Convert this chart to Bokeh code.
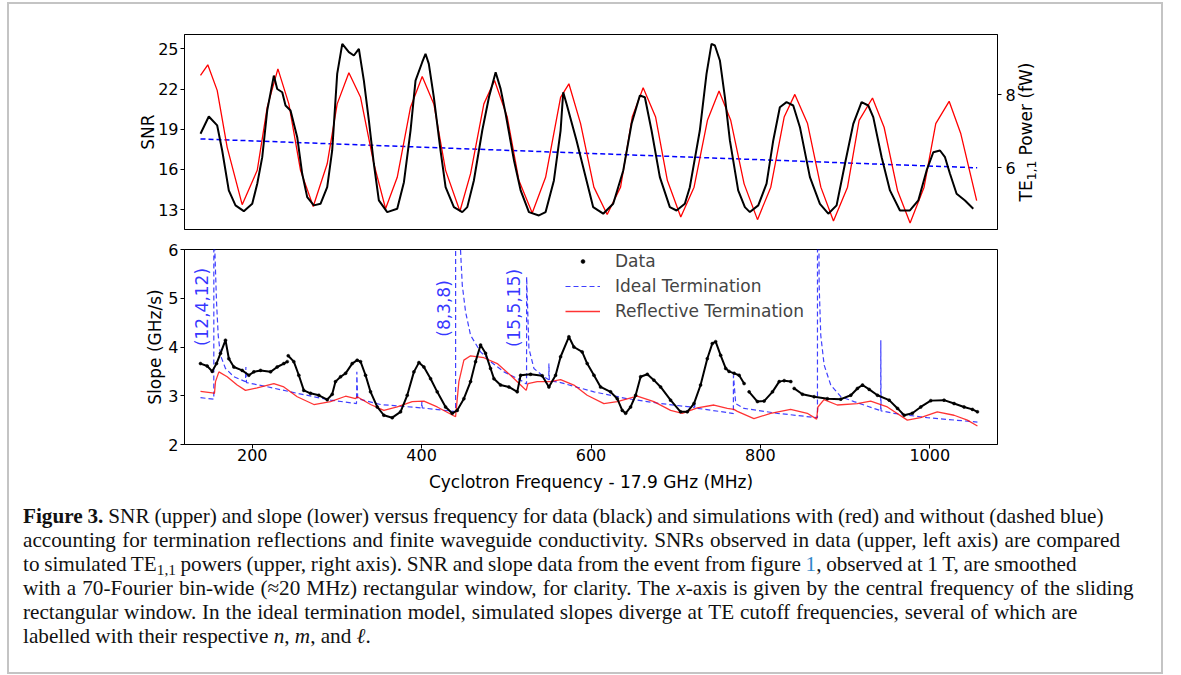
import math
from bokeh.plotting import figure
from bokeh.models import Range1d, LinearAxis, Legend, LegendItem, Div, FixedTicker
from bokeh.layouts import column, row
from bokeh.embed import file_html
from bokeh.resources import INLINE
from bokeh.core.properties import value

NaN = float("nan")

# ---------------- data ----------------
# upper panel: measured SNR (left axis)
snr_freq = [138.9, 148.7, 158.6, 164.5, 172.3, 180.2, 190.0, 200.0, 205.9, 211.8,
            217.7, 225.5, 229.5, 235.4, 239.3, 245.2, 253.1, 259.0, 264.9, 272.7,
            280.6, 288.5, 294.4, 300.3, 306.3, 314.1, 320.0, 325.9, 331.8, 337.7,
            343.6, 349.5, 359.4, 371.2, 379.1, 386.9, 392.8, 400.7, 404.6, 408.5,
            414.4, 422.3, 428.3, 438.1, 448.0, 453.9, 461.7, 471.6, 479.5, 487.4,
            493.3, 499.2, 509.1, 516.9, 526.7, 538.5, 546.4, 556.2, 564.1, 567.2,
            571.1, 582.9, 594.7, 602.6, 614.4, 626.2, 638.1, 647.9, 657.7, 663.6,
            671.5, 681.3, 693.1, 701.0, 710.8, 716.7, 728.5, 736.4, 742.3, 746.3,
            752.2, 758.1, 764.0, 773.8, 781.7, 787.6, 797.5, 807.3, 815.2, 823.0,
            830.9, 838.8, 846.7, 858.5, 870.3, 880.2, 890.0, 899.9, 909.7, 919.5,
            927.4, 933.3, 943.2, 953.0, 964.8, 976.6, 986.5, 996.3, 1004.2, 1012.1,
            1018.0, 1023.9, 1031.7, 1041.6, 1051.4]
snr_vals = [18.66, 19.95, 19.28, 17.41, 14.43, 13.31, 12.88, 13.43, 14.93, 16.91,
            20.40, 23.00, 22.00, 21.76, 20.77, 20.40, 18.40, 15.67, 13.93, 13.31,
            13.43, 14.67, 17.41, 23.13, 25.37, 24.75, 24.50, 25.00, 22.63, 19.65,
            16.42, 13.68, 12.81, 13.06, 15.04, 18.90, 22.63, 24.00, 24.63, 23.88,
            21.39, 17.41, 14.67, 13.18, 12.81, 13.18, 15.17, 18.90, 21.39, 23.25,
            22.01, 20.15, 16.66, 14.43, 12.81, 12.56, 12.81, 15.17, 18.90, 21.76,
            20.90, 18.16, 15.17, 13.18, 12.69, 13.43, 15.92, 19.40, 21.51, 21.39,
            18.90, 15.42, 13.18, 12.93, 13.43, 14.67, 18.90, 23.13, 25.37, 25.25,
            24.13, 21.39, 18.16, 14.43, 13.18, 12.81, 13.31, 14.93, 18.16, 20.64,
            21.02, 20.77, 19.15, 15.42, 13.43, 12.69, 13.31, 16.42, 19.40, 21.02,
            20.77, 19.90, 16.91, 14.43, 12.93, 12.93, 13.68, 15.92, 17.28, 17.41,
            16.91, 15.67, 14.18, 13.68, 13.06]

# upper panel: simulated TE11 power (right axis), reflective termination
pow_refl_freq = [138.9, 147.5, 158.6, 170.4, 188.1, 205.9, 217.7, 230.3, 243.2, 257.0,
                 272.0, 288.5, 300.3, 314.1, 327.9, 343.6, 357.4, 371.2, 386.9, 400.7,
                 414.4, 428.3, 445.2, 457.8, 473.5, 486.1, 501.1, 514.9, 530.6, 546.4,
                 564.1, 573.9, 587.7, 603.4, 619.1, 634.9, 648.7, 661.6, 676.3, 690.2,
                 706.0, 721.7, 737.5, 751.2, 765.0, 780.8, 796.6, 812.3, 828.1, 840.7,
                 855.7, 871.4, 886.3, 902.9, 916.6, 932.4, 946.1, 961.9, 976.8, 993.3,
                 1007.1, 1022.9, 1036.7, 1055.4]
pow_refl_vals = [8.53, 8.82, 8.12, 6.56, 4.99, 5.93, 7.66, 8.71, 7.75, 5.93,
                 4.94, 6.11, 7.75, 8.60, 7.93, 6.11, 4.88, 5.74, 7.66, 8.50,
                 7.75, 5.93, 4.81, 5.84, 7.75, 8.39, 7.39, 5.65, 4.76, 5.74,
                 7.93, 8.30, 7.21, 5.47, 4.72, 5.47, 7.39, 8.19, 7.39, 5.65,
                 4.65, 5.47, 7.30, 8.10, 7.30, 5.56, 4.58, 5.47, 7.39, 8.01,
                 7.21, 5.47, 4.54, 5.47, 7.30, 7.91, 7.11, 5.38, 4.49, 5.47,
                 7.21, 7.82, 6.93, 5.10]

# upper panel: simulated TE11 power, ideal termination
pow_ideal_freq = [138.9, 1056.0]
pow_ideal_vals = [6.79, 6.00]

# lower panel: measured slope
slope_freq = [138.9, 146.8, 152.7, 157.8, 162.5, 168.4, 172.4, 178.3, 188.1, 196.0,
              201.9, 209.8, 221.6, 229.4, 237.3, 241.3, NaN, 242.5, 249.1, 255.0,
              260.9, 268.8, 278.7, 288.5, 294.4, 298.3, 304.3, 310.2, 318.0, 323.9,
              327.9, 333.8, 339.7, 347.6, 355.4, 365.3, 375.1, 383.0, 390.9, 396.8,
              402.7, 410.6, 418.4, 428.3, 436.1, 442.0, 449.9, 457.8, 463.7, 469.6,
              475.5, 481.4, 485.4, 493.2, 503.1, 512.9, 516.9, 528.7, 542.4, 550.3,
              558.2, 564.1, 573.9, 579.8, 589.6, 595.5, 603.5, 611.3, 623.1, 631.0,
              636.9, 640.9, 646.8, 652.7, 658.6, 666.5, 674.3, 682.2, 694.0, 705.8,
              713.7, 721.6, 729.4, 737.3, 743.2, 747.2, 753.1, 759.1, 763.0, 769.0,
              774.9, 780.8, NaN, 786.7, 796.5, 804.4, 814.3, 822.2, 828.1, 836.0,
              NaN, 839.9, 849.7, 863.5, 879.2, 895.0, 906.8, 914.6, 920.6, 928.5,
              938.3, 952.1, 962.0, 969.8, 979.4, 989.4, 1001.2, 1016.9, 1028.7, 1040.5,
              1050.4, 1056.3]
slope_vals = [3.66, 3.61, 3.50, 3.66, 3.87, 4.14, 3.76, 3.59, 3.52, 3.42,
              3.49, 3.52, 3.49, 3.59, 3.66, 3.70, NaN, 3.82, 3.70, 3.42,
              3.11, 3.05, 3.01, 2.92, 3.03, 3.29, 3.39, 3.46, 3.66, 3.73,
              3.70, 3.42, 3.08, 2.77, 2.60, 2.55, 2.67, 3.01, 3.49, 3.68,
              3.59, 3.35, 3.08, 2.77, 2.64, 2.70, 2.94, 3.29, 3.70, 4.04,
              3.87, 3.56, 3.35, 3.22, 3.18, 3.08, 3.42, 3.44, 3.41, 3.18,
              3.42, 3.80, 4.21, 4.00, 3.90, 3.66, 3.42, 3.18, 3.08, 2.94,
              2.70, 2.64, 2.77, 3.01, 3.39, 3.44, 3.32, 3.18, 2.91, 2.67,
              2.67, 2.84, 3.22, 3.76, 4.07, 4.11, 3.83, 3.56, 3.50, 3.46,
              3.42, 3.25, NaN, 3.08, 2.88, 2.89, 3.08, 3.29, 3.31, 3.29,
              NaN, 3.15, 3.03, 2.98, 2.94, 2.93, 3.01, 3.15, 3.22, 3.13,
              3.01, 2.91, 2.74, 2.60, 2.64, 2.77, 2.90, 2.91, 2.84, 2.77,
              2.72, 2.67]

# lower panel: simulated slope, ideal termination
ideal_freq = [138.9, 154.6, 154.7, 155.8, 157.8, 159.8, 162.5, 168.4, 178.3, 192.0,
              192.5, 193.2, 213.7, 253.1, 292.4, 323.1, 323.5, 324.5, 351.5, 399.9,
              400.3, 400.8, 438.1, 440.1, 440.2, 445.9, 448.0, 451.9, 457.8, 469.6,
              481.4, 497.2, 516.9, 522.8, 523.9, 524.0, 526.7, 532.6, 544.4, 550.2,
              550.3, 550.8, 564.1, 603.5, 642.9, 682.2, 722.0, 722.2, 722.6, 766.9,
              768.1, 768.2, 770.9, 780.8, 820.2, 866.6, 867.4, 867.5, 869.4, 871.3,
              875.3, 883.1, 895.0, 910.6, 940.9, 942.1, 942.2, 942.5, 957.6, 997.0,
              1056.3]
ideal_vals = [2.96, 2.93, 12.0, 6.00, 4.93, 4.24, 3.83, 3.56, 3.39, 3.29,
              3.59, 3.27, 3.20, 3.05, 2.91, 2.84, 3.49, 2.94, 2.82, 2.75,
              2.88, 2.75, 2.68, 2.67, 12.0, 6.00, 5.27, 4.72, 4.24, 3.90,
              3.70, 3.49, 3.32, 3.25, 3.24, 5.44, 3.97, 3.56, 3.39, 3.33,
              3.66, 3.31, 3.27, 3.08, 2.94, 2.84, 2.76, 2.88, 2.75, 2.64,
              2.63, 3.42, 2.84, 2.74, 2.64, 2.55, 2.55, 12.0, 5.27, 4.24,
              3.63, 3.22, 2.98, 2.88, 2.70, 2.70, 4.14, 2.69, 2.64, 2.55,
              2.46]

# lower panel: simulated slope, reflective termination
refl_freq = [138.9, 152.7, 155.4, 156.6, 160.6, 170.4, 182.2, 192.0, 205.8, 225.5,
             237.3, 253.1, 272.8, 292.4, 310.2, 322.0, 323.9, 339.7, 355.4, 371.2,
             388.9, 402.7, 418.4, 440.1, 444.0, 449.9, 457.8, 473.5, 489.3, 505.0,
             516.9, 523.5, 525.5, 536.5, 552.3, 564.1, 579.8, 595.5, 615.2, 631.0,
             654.6, 674.3, 694.0, 707.8, 725.5, 745.2, 760.9, 768.8, 772.8, 792.4,
             812.1, 835.7, 855.4, 866.4, 868.0, 875.1, 890.8, 914.4, 930.2, 949.9,
             973.5, 989.2, 1008.9, 1028.7, 1044.4, 1056.3]
refl_vals = [3.09, 3.06, 3.05, 3.29, 3.49, 3.39, 3.22, 3.11, 3.16, 3.25,
             3.18, 2.98, 2.82, 2.88, 2.99, 2.94, 2.98, 2.82, 2.70, 2.77,
             2.88, 2.89, 2.77, 2.57, 3.29, 3.73, 3.82, 3.78, 3.66, 3.42,
             3.22, 3.11, 3.25, 3.29, 3.29, 3.33, 3.22, 3.01, 2.84, 2.88,
             2.99, 2.88, 2.70, 2.64, 2.75, 2.81, 2.74, 2.72, 2.68, 2.53,
             2.64, 2.72, 2.64, 2.52, 2.77, 2.92, 2.81, 2.84, 2.89, 2.77,
             2.50, 2.55, 2.67, 2.60, 2.50, 2.38]

# cutoff labels (n, m, l)
cut_text = ["(12,4,12)", "(8,3,8)", "(15,5,15)"]
cut_freq = [140.9, 426.3, 508.9]
cut_slope = [4.82, 4.79, 4.80]

snr_ticks = [13, 16, 19, 22, 25]
pow_ticks = [6, 8]
slope_ticks = [2, 3, 4, 5, 6]
freq_ticks = [200, 400, 600, 800, 1000]

# ---------------- styling ----------------
FONT = "DejaVu Sans"
W = 1152
ML, MR = 175, 164
FRAME_W = W - ML - MR
MR1 = 24                     # right border of upper panel (tick labels only)
W1 = ML + FRAME_W + MR1      # upper panel width; the rest holds the right label
x_rng = Range1d(120, 1080)
DASH = "5 3"


def style_axis(ax):
    ax.axis_line_color = "black"
    ax.major_tick_line_color = "black"
    ax.minor_tick_line_color = None
    ax.major_tick_in = 0
    ax.major_tick_out = 4
    ax.major_label_text_font = FONT
    ax.major_label_text_font_size = "16px"
    ax.major_label_text_color = "black"
    ax.axis_label_text_font = FONT
    ax.axis_label_text_font_size = "17px"
    ax.axis_label_text_font_style = "normal"
    ax.axis_label_text_color = "black"


def style_fig(p):
    p.grid.visible = False
    p.outline_line_color = "black"
    p.outline_line_alpha = 1
    p.outline_line_width = 1
    p.background_fill_color = "white"
    p.border_fill_color = "white"


# ---------- upper panel ----------
snr_rng = Range1d(11.51, 26.07)
p1 = figure(width=W1, height=235, x_range=x_rng, y_range=snr_rng,
            output_backend="svg", toolbar_location=None,
            min_border_left=ML, min_border_right=MR1, min_border_top=30, min_border_bottom=10)
p1.extra_y_ranges = {"power": Range1d(4.31, 9.65)}
style_fig(p1)
p1.xaxis.visible = False
p1.yaxis.ticker = FixedTicker(ticks=snr_ticks)
p1.yaxis.axis_label = "SNR"
style_axis(p1.yaxis[0])
p1.yaxis.major_label_standoff = 2
p1.yaxis.axis_label_standoff = -3

ax_r = LinearAxis(y_range_name="power", ticker=FixedTicker(ticks=pow_ticks))
style_axis(ax_r)
ax_r.major_label_standoff = 4
p1.add_layout(ax_r, "right")

p1.line(pow_ideal_freq, pow_ideal_vals, y_range_name="power", line_color="blue",
        line_width=1.5, line_dash=DASH)
p1.line(pow_refl_freq, pow_refl_vals, y_range_name="power", line_color="red", line_width=1.3)
p1.line(snr_freq, snr_vals, line_color="black", line_width=2)

# right-axis title, rotated to read bottom to top
right_label = Div(
    text=("<div style='position:relative;width:%dpx;height:235px;'>"
          "<span style=\"position:absolute;left:5px;top:127.5px;white-space:nowrap;"
          "font-family:'DejaVu Sans',sans-serif;font-size:17px;color:black;line-height:20px;"
          "transform:translate(-50%%,-50%%) rotate(-90deg);\">"
          "TE<sub style='font-size:0.72em;line-height:0;vertical-align:-0.3em'>1,1</sub>"
          " Power (fW)</span></div>") % (W - W1),
    width=W - W1, height=235, margin=0)

# ---------- lower panel ----------
p2 = figure(width=W, height=257, x_range=x_rng, y_range=Range1d(2, 6),
            output_backend="svg", toolbar_location=None,
            min_border_left=ML, min_border_right=MR, min_border_top=10, min_border_bottom=52)
style_fig(p2)
p2.xaxis.ticker = FixedTicker(ticks=freq_ticks)
p2.yaxis.ticker = FixedTicker(ticks=slope_ticks)
p2.xaxis.axis_label = "Cyclotron Frequency - 17.9 GHz (MHz)"
p2.yaxis.axis_label = "Slope (GHz/s)"
style_axis(p2.xaxis[0])
style_axis(p2.yaxis[0])
p2.xaxis.major_label_standoff = 0
p2.xaxis.axis_label_standoff = 8
p2.yaxis.major_label_standoff = 2
p2.yaxis.axis_label_standoff = 0

r_ideal = p2.line(ideal_freq, ideal_vals, line_color="blue", line_alpha=0.75,
                  line_width=1.2, line_dash=DASH)
r_refl = p2.line(refl_freq, refl_vals, line_color="red", line_alpha=0.8, line_width=1.3)
p2.line(slope_freq, slope_vals, line_color="black", line_width=2)
r_dots = p2.scatter(slope_freq, slope_vals, marker="circle", size=3, color="black",
                    line_width=0.5)

p2.text(x=cut_freq, y=cut_slope, text=cut_text, angle=math.pi / 2,
        text_align="center", text_baseline="middle", text_color="blue", text_alpha=0.8,
        text_font=value(FONT), text_font_size="17px")

legend = Legend(items=[LegendItem(label="Data", renderers=[r_dots]),
                       LegendItem(label="Ideal Termination", renderers=[r_ideal]),
                       LegendItem(label="Reflective Termination", renderers=[r_refl])],
                location=(381, 122), orientation="vertical")
legend.border_line_color = None
legend.background_fill_alpha = 0
legend.label_text_font = FONT
legend.label_text_font_size = "17px"
legend.glyph_width = 35
legend.glyph_height = 10
legend.label_height = 22
legend.spacing = 3
legend.padding = 4
legend.margin = 0
legend.label_standoff = 15
p2.add_layout(legend)

# ---------- caption ----------
def cap_line(html, ws):
    return "<span style='word-spacing:%spx'>%s</span>" % (ws, html)


caption_lines = [
    cap_line("<b>Figure 3.</b> SNR (upper) and slope (lower) versus frequency for data (black) and "
             "simulations with (red) and without (dashed blue)", -0.4),
    cap_line("accounting for termination reflections and finite waveguide conductivity. SNRs "
             "observed in data (upper, left axis) are compared", 0.9),
    cap_line("to simulated TE<sub style='font-size:0.72em;line-height:0;vertical-align:-0.25em'>"
             "1,1</sub> powers (upper, right axis). SNR and slope data from the event from figure "
             "<span style='color:#2f86c8'>1</span>, observed at 1 T, are smoothed", -0.6),
    cap_line("with a 70-Fourier bin-wide (&asymp;20 MHz) rectangular window, for clarity. The "
             "<i>x</i>-axis is given by the central frequency of the sliding", 0.8),
    cap_line("rectangular window. In the ideal termination model, simulated slopes diverge at TE "
             "cutoff frequencies, several of which are", 0.5),
    cap_line("labelled with their respective <i>n</i>, <i>m</i>, and <i>\u2113</i>.", 0),
]
caption = ("<div style=\"font-family:'Liberation Serif',serif;font-size:21.2px;line-height:24px;"
           "white-space:nowrap;color:#111;padding:8px 0 0 14px;\">"
           + "<br>".join(caption_lines) + "</div>")
cap = Div(text=caption, width=W, height=176, margin=0)

top_row = row(p1, right_label, spacing=0)
layout = column(top_row, p2, cap, spacing=0,
                styles={"border": "2px solid #c4c4c4", "margin-top": "2px",
                        "margin-left": "7px"})

open("out.html", "w").write(file_html(layout, INLINE))
